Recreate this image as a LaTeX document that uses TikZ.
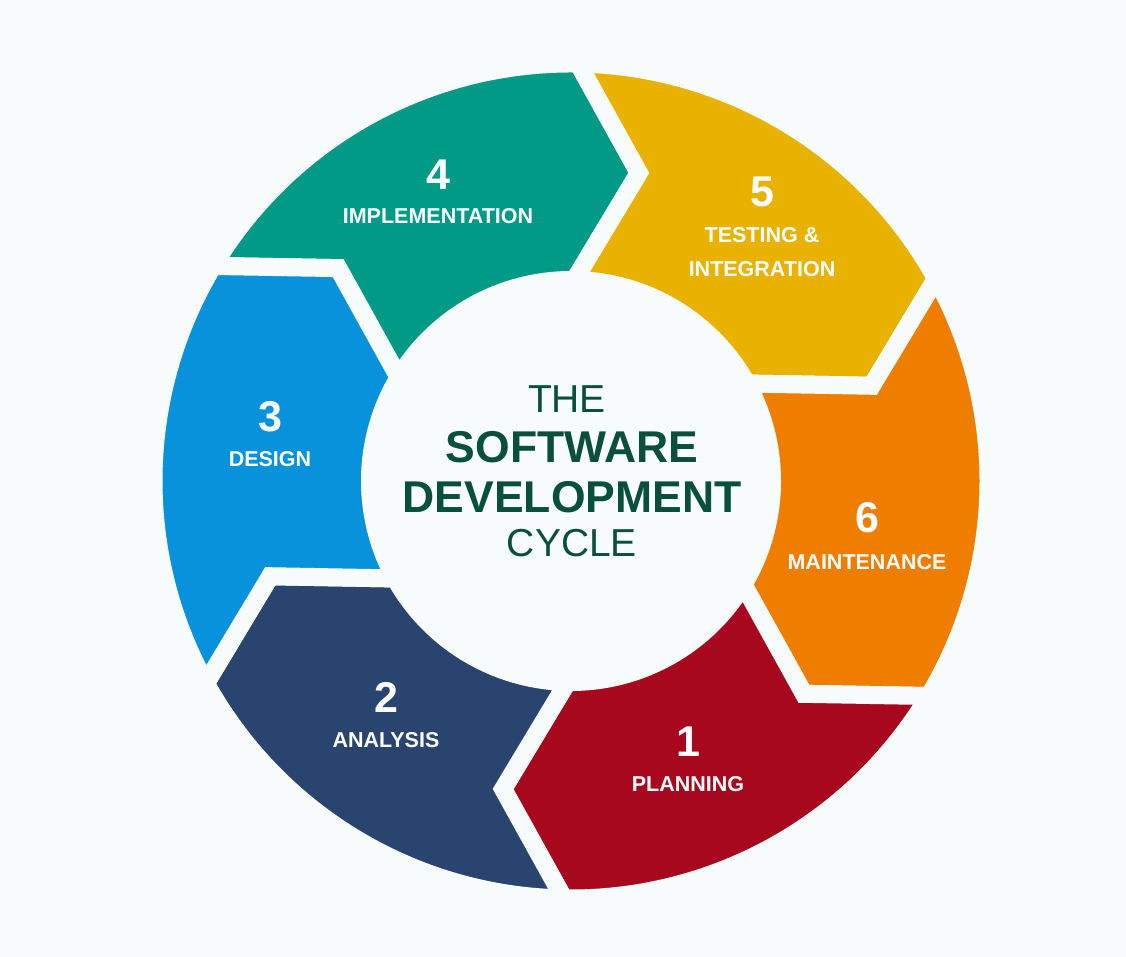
\documentclass[tikz,border=0pt]{standalone}
\usepackage{fontspec}
\setmainfont{Liberation Sans}
\definecolor{bg}{RGB}{248,252,252}
\definecolor{cteal}{RGB}{0,154,134}
\definecolor{cyellow}{RGB}{233,178,0}
\definecolor{corange}{RGB}{238,125,0}
\definecolor{cred}{RGB}{168,8,30}
\definecolor{cnavy}{RGB}{42,68,112}
\definecolor{cblue}{RGB}{8,146,220}
\definecolor{ctitle}{RGB}{8,80,60}
\def\cycseg#1#2#3{%
  \pgfmathsetmacro\tipb{#3-11.43}%
  \pgfmathsetmacro\tipa{#2-11.43}%
  \draw[seg=#1] (#2:417.5pt) arc[start angle=#2, end angle=#3, radius=417.5pt]
    -- (\tipb:315.5pt) -- (#3:201pt)
    arc[start angle=#3, end angle=#2, radius=201pt]
    -- (\tipa:315.5pt) -- cycle;}
\begin{document}
\begin{tikzpicture}[x=1pt,y=1pt,
  seg/.style={fill=#1, draw=bg, line width=18pt, line join=miter, miter limit=20},
  num/.style={text=white, font=\fontsize{43}{43}\selectfont\bfseries, anchor=base, inner sep=0pt},
  lab/.style={text=white, font=\fontsize{21.5}{21.5}\selectfont\bfseries, anchor=base, inner sep=0pt},
  ttlreg/.style={text=ctitle, font=\fontsize{39}{39}\selectfont, anchor=base, inner sep=0pt},
  ttlbold/.style={text=ctitle, font=\fontsize{44.5}{44.5}\selectfont\bfseries, anchor=base, inner sep=0pt}]
\useasboundingbox (0,0) rectangle (1126,957);
\fill[bg] (0,0) rectangle (1126,957);
\begin{scope}[shift={(571,476)}]
  \cycseg{cteal}{149}{89}
  \cycseg{cyellow}{89}{29}
  \cycseg{corange}{29}{-31}
  \cycseg{cred}{-31}{-91}
  \cycseg{cnavy}{-91}{-151}
  \cycseg{cblue}{-151}{-211}
\end{scope}
% segment labels
\node[num] (n4) at (438,767) {4};
\node[lab] (l4) at (438,733) {IMPLEMENTATION};
\node[num] (n5) at (762,750) {5};
\node[lab] (l5a) at (762,714) {TESTING \&};
\node[lab] (l5b) at (762,680) {INTEGRATION};
\node[num] (n6) at (867,424) {6};
\node[lab] (l6) at (867,387) {MAINTENANCE};
\node[num] (n1) at (688,200) {1};
\node[lab] (l1) at (688,165) {PLANNING};
\node[num] (n2) at (386,244) {2};
\node[lab] (l2) at (386,209) {ANALYSIS};
\node[num] (n3) at (270,525) {3};
\node[lab] (l3) at (270,490) {DESIGN};
% title
\node[ttlreg] (t1) at (567,544) {THE};
\node[ttlbold] (t2) at (572,494) {SOFTWARE};
\node[ttlbold] (t3) at (572,444) {DEVELOPMENT};
\node[ttlreg] (t4) at (572,400) {CYCLE};
\end{tikzpicture}
\end{document}
